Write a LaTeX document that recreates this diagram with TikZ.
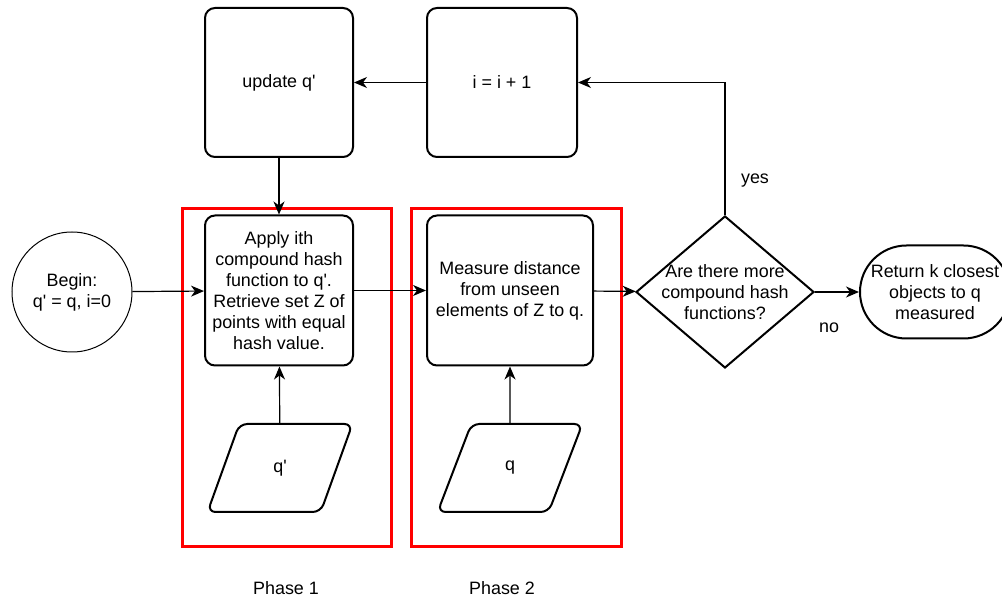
\documentclass[tikz,border=0pt]{standalone}
\usepackage{fontspec}
\setmainfont{Liberation Sans}[Ligatures=TeXOff]
\usetikzlibrary{shapes.geometric,shapes.misc,arrows.meta}

\tikzset{
    procbox/.style={draw, line width=2pt, rounded corners=10pt, align=center, inner sep=0pt},
    startcircle/.style={draw, circle, line width=1pt, minimum size=120pt, align=center, inner sep=0pt},
    decision/.style={draw, diamond, line width=2pt, minimum width=178pt, minimum height=152pt, inner sep=0pt},
    inputbox/.style={draw, trapezium, trapezium left angle=72, trapezium right angle=108, trapezium stretches=true,
        line width=2pt, rounded corners=8pt, minimum width=145pt, minimum height=88pt, inner sep=0pt},
    endbox/.style={draw, rounded rectangle, line width=2pt, minimum width=150pt, minimum height=93pt, align=center, inner sep=0pt},
    flow/.style={-{Stealth[length=13pt,width=11pt,inset=4pt]}, line width=1.2pt},
    phasebox/.style={draw=red, line width=3pt}
}

\begin{document}
\begin{tikzpicture}[x=1pt, y=-1pt, font=\fontsize{17.9}{21}\selectfont]
    \useasboundingbox (0,0) rectangle (1002,601);

    % phases:
    \draw[phasebox] (182,209) rectangle (391,546);
    \draw[phasebox] (411,209) rectangle (621,546);
    \node (phase1) at (286,588) {Phase 1};
    \node (phase2) at (502,588) {Phase 2};

    % boxes:
    \node[procbox, minimum width=148pt, minimum height=149pt] (upd) at (279,82.5) {update q'};
    \node[procbox, minimum width=150pt, minimum height=149pt] (incr) at (502,82.5) {i = i + 1};
    \node[startcircle] (begin) at (72,292) {Begin:\\q' = q, i=0};
    \node[procbox, minimum width=148pt, minimum height=150pt] (apply) at (279,290.5)
        {Apply ith\\compound hash\\function to q'.\\Retrieve set Z of\\points with equal\\hash value.};
    \node[procbox, minimum width=166pt, minimum height=150pt] (measure) at (510,290.5)
        {Measure distance\\from unseen\\elements of Z to q.};
    \node[decision, label={[align=center]center:Are there more\\compound hash\\functions?}] (decide) at (725,292) {};
    \node[endbox] (ret) at (935,292) {Return k closest\\objects to q\\measured};

    % inputs:
    \node[inputbox] (qprime) at (280,468) {q'};
    \node[inputbox] (qin) at (510,468) {q};

    % arrows:
    \draw[flow] (begin) -- (apply);
    \draw[flow] (apply) -- (measure);
    \draw[flow] (measure) -- (decide);
    \draw[flow] (decide) -- (ret);
    \draw[flow] (decide.north) |- (incr.east);
    \draw[flow] (incr) -- (upd);
    \draw[flow] (upd) -- (apply);
    \draw[flow] (qprime) -- (apply);
    \draw[flow] (qin) -- (measure);

    % answers:
    \node (yes) at (755,181) {yes};
    \node (no) at (829,328) {no};
\end{tikzpicture}
\end{document}
